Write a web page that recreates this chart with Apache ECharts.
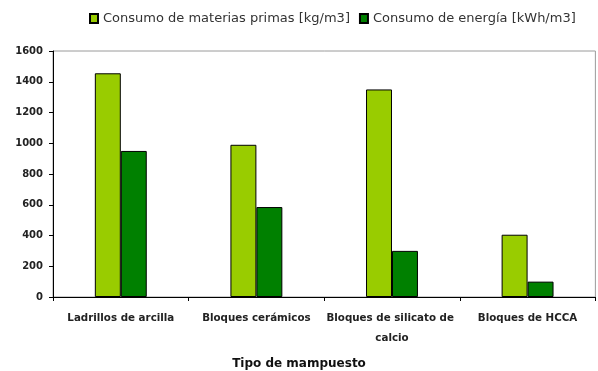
<!DOCTYPE html>
<html><head><meta charset="utf-8">
<script src="https://cdn.jsdelivr.net/npm/echarts@6/dist/echarts.min.js"></script>
<style>html,body{margin:0;padding:0;background:#fff}#c{width:598px;height:371px}</style>
</head><body><div id="c"></div>
<script>
const categories = ["Ladrillos de arcilla", "Bloques cerámicos", "Bloques de silicato de calcio", "Bloques de HCCA"];
const materias = [1455, 990, 1350, 405];
const energia = [950, 585, 300, 100];
const seriesNames = ["Consumo de materias primas [kg/m3]", "Consumo de energía [kWh/m3]"];
const yTicks = {min: 0, max: 1600, interval: 200};
const xTitle = "Tipo de mampuesto";

const chart = echarts.init(document.getElementById('c'), null, {renderer: 'canvas'});
chart.setOption({
  animation: false,
  backgroundColor: '#fff',
  textStyle: {fontFamily: 'DejaVu Sans'},
  legend: {
    top: 12, left: 89, padding: 0,
    itemWidth: 8, itemHeight: 9, itemGap: 9,
    icon: 'rect',
    textStyle: {fontSize: 13, color: '#333'},
    data: seriesNames
  },
  grid: {left: 53, right: 2, top: 51, bottom: 74, show: true, borderColor: '#9a9a9a', borderWidth: 1},
  xAxis: {
    type: 'category', data: categories,
    axisLine: {lineStyle: {color: '#000', width: 1}},
    axisTick: {show: true, length: 4, lineStyle: {color: '#000'}},
    axisLabel: {fontSize: 10.3, fontWeight: 'bold', color: '#222', width: 135, overflow: 'break', lineHeight: 20, margin: 11, interval: 0}
  },
  yAxis: {
    type: 'value', min: yTicks.min, max: yTicks.max, interval: yTicks.interval,
    axisLine: {show: true, lineStyle: {color: '#000', width: 1}},
    axisTick: {show: true, length: 4, lineStyle: {color: '#000'}},
    splitLine: {show: false},
    axisLabel: {fontSize: 10, fontWeight: 'bold', color: '#222', margin: 10, formatter: v => String(v)}
  },
  graphic: [{
    type: 'text', left: 'center', top: 358,
    style: {text: xTitle, fontSize: 12, fontWeight: 'bold', fill: '#111', fontFamily: 'DejaVu Sans'}
  }],
  series: [
    {name: seriesNames[0], type: 'bar', data: materias, barGap: '0%', barCategoryGap: '61.7%',
     itemStyle: {color: '#99CC00', borderColor: '#000', borderWidth: 1}},
    {name: seriesNames[1], type: 'bar', data: energia,
     itemStyle: {color: '#008000', borderColor: '#000', borderWidth: 1}}
  ]
});
</script></body></html>
